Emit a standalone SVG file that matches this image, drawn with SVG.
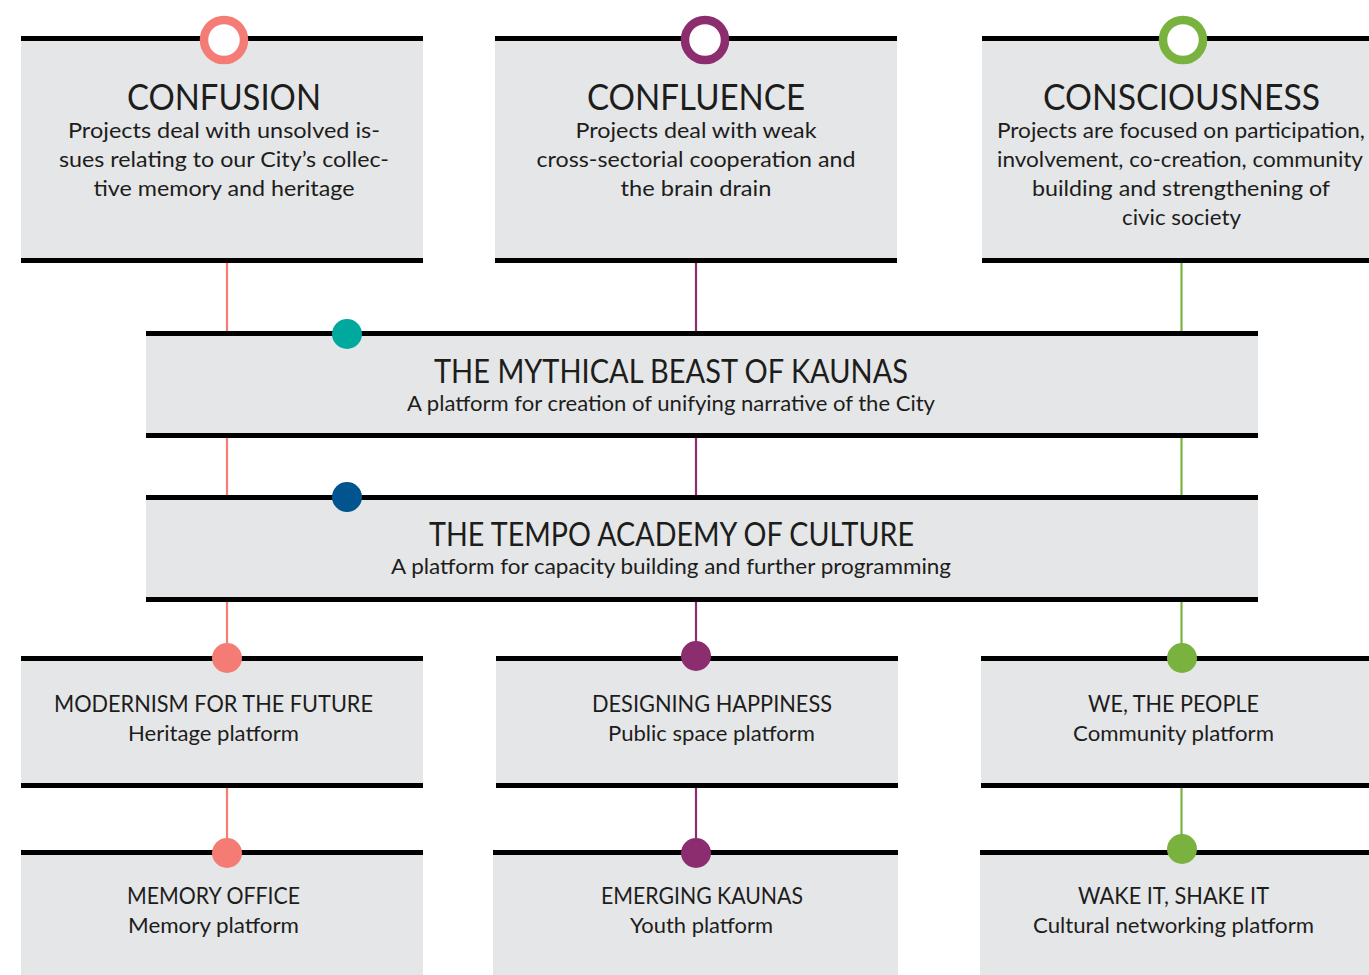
<svg xmlns="http://www.w3.org/2000/svg" width="1369" height="975" viewBox="0 0 1369 975">
<style>
.box{fill:#E5E6E8}
.bar{stroke:#000;stroke-width:5}
text{font-family:Lato,"Open Sans","Liberation Sans",sans-serif;fill:#1d1d1b;text-anchor:middle}
.t1{font-size:36px}
.d1{font-size:22px}
.t2{font-size:32px}
.s2{font-size:21px}
.t3{font-size:23px}
.s3{font-size:21px}
.cr{stroke:#F47C74;stroke-width:2.2}
.cp{stroke:#8B2D6F;stroke-width:2.2}
.cg{stroke:#7AB23F;stroke-width:2.2}
</style>
<rect width="1369" height="975" fill="#fff"/>
<g id="connectors">
<line class="cr" x1="227" y1="262" x2="227" y2="852"/>
<line class="cp" x1="696" y1="262" x2="696" y2="852"/>
<line class="cg" x1="1181.5" y1="262" x2="1181.5" y2="852"/>
</g>
<g id="confusion">
<rect class="box" x="21" y="41" width="402" height="217"/>
<line class="bar" x1="21" y1="38.5" x2="423" y2="38.5"/>
<line class="bar" x1="21" y1="260.5" x2="423" y2="260.5"/>
<circle cx="224" cy="40" r="20" fill="#fff" stroke="#F47C74" stroke-width="8.5"/>
<text class="t1" x="224" y="110" textLength="194" lengthAdjust="spacingAndGlyphs">CONFUSION</text>
<text class="d1" x="224" y="138" textLength="312" lengthAdjust="spacingAndGlyphs">Projects deal with unsolved is-</text>
<text class="d1" x="224" y="167" textLength="330" lengthAdjust="spacingAndGlyphs">sues relating to our City’s collec-</text>
<text class="d1" x="224" y="196" textLength="261" lengthAdjust="spacingAndGlyphs">tive memory and heritage</text>
</g>
<g id="confluence">
<rect class="box" x="495" y="41" width="402" height="217"/>
<line class="bar" x1="495" y1="38.5" x2="897" y2="38.5"/>
<line class="bar" x1="495" y1="260.5" x2="897" y2="260.5"/>
<circle cx="705" cy="40" r="20" fill="#fff" stroke="#8B2D6F" stroke-width="8.5"/>
<text class="t1" x="696" y="110" textLength="218" lengthAdjust="spacingAndGlyphs">CONFLUENCE</text>
<text class="d1" x="696" y="138" textLength="241" lengthAdjust="spacingAndGlyphs">Projects deal with weak</text>
<text class="d1" x="696" y="167" textLength="319" lengthAdjust="spacingAndGlyphs">cross-sectorial cooperation and</text>
<text class="d1" x="696" y="196" textLength="151" lengthAdjust="spacingAndGlyphs">the brain drain</text>
</g>
<g id="consciousness">
<rect class="box" x="982" y="41" width="387" height="217"/>
<line class="bar" x1="982" y1="38.5" x2="1369" y2="38.5"/>
<line class="bar" x1="982" y1="260.5" x2="1369" y2="260.5"/>
<circle cx="1183" cy="40" r="20" fill="#fff" stroke="#7AB23F" stroke-width="8.5"/>
<text class="t1" x="1181.5" y="110" textLength="277" lengthAdjust="spacingAndGlyphs">CONSCIOUSNESS</text>
<text class="d1" x="1181" y="138" textLength="368" lengthAdjust="spacingAndGlyphs">Projects are focused on participation,</text>
<text class="d1" x="1180" y="167" textLength="366" lengthAdjust="spacingAndGlyphs">involvement, co-creation, community</text>
<text class="d1" x="1181" y="196" textLength="298" lengthAdjust="spacingAndGlyphs">building and strengthening of</text>
<text class="d1" x="1181.5" y="225" textLength="119" lengthAdjust="spacingAndGlyphs">civic society</text>
</g>
<g id="mythical-beast">
<rect class="box" x="146" y="336" width="1112" height="97"/>
<line class="bar" x1="146" y1="333.5" x2="1258" y2="333.5"/>
<line class="bar" x1="146" y1="435.5" x2="1258" y2="435.5"/>
<circle cx="347" cy="334" r="15" fill="#00A99D"/>
<text class="t2" x="671" y="383" textLength="474" lengthAdjust="spacingAndGlyphs">THE MYTHICAL BEAST OF KAUNAS</text>
<text class="s2" x="671" y="411" textLength="528" lengthAdjust="spacingAndGlyphs">A platform for creation of unifying narrative of the City</text>
</g>
<g id="tempo-academy">
<rect class="box" x="146" y="500" width="1112" height="97"/>
<line class="bar" x1="146" y1="497.5" x2="1258" y2="497.5"/>
<line class="bar" x1="146" y1="599.5" x2="1258" y2="599.5"/>
<circle cx="347" cy="497" r="15" fill="#01548E"/>
<text class="t2" x="671.5" y="546" textLength="485" lengthAdjust="spacingAndGlyphs">THE TEMPO ACADEMY OF CULTURE</text>
<text class="s2" x="671" y="574" textLength="560" lengthAdjust="spacingAndGlyphs">A platform for capacity building and further programming</text>
</g>
<g id="modernism">
<rect class="box" x="21" y="661" width="402" height="122"/>
<line class="bar" x1="21" y1="658.5" x2="423" y2="658.5"/>
<line class="bar" x1="21" y1="785.5" x2="423" y2="785.5"/>
<circle cx="227" cy="658" r="15" fill="#F47C74"/>
<text class="t3" x="213.5" y="712" textLength="319" lengthAdjust="spacingAndGlyphs">MODERNISM FOR THE FUTURE</text>
<text class="s3" x="213.5" y="741" textLength="171" lengthAdjust="spacingAndGlyphs">Heritage platform</text>
</g>
<g id="memory-office">
<rect class="box" x="21" y="855" width="402" height="120"/>
<line class="bar" x1="21" y1="852.5" x2="423" y2="852.5"/>
<circle cx="227" cy="853" r="15" fill="#F47C74"/>
<text class="t3" x="213.5" y="904" textLength="173" lengthAdjust="spacingAndGlyphs">MEMORY OFFICE</text>
<text class="s3" x="213.5" y="933" textLength="171" lengthAdjust="spacingAndGlyphs">Memory platform</text>
</g>
<g id="designing-happiness">
<rect class="box" x="496" y="661" width="402" height="122"/>
<line class="bar" x1="496" y1="658.5" x2="898" y2="658.5"/>
<line class="bar" x1="496" y1="785.5" x2="898" y2="785.5"/>
<circle cx="696" cy="656" r="15" fill="#8B2D6F"/>
<text class="t3" x="712" y="712" textLength="240" lengthAdjust="spacingAndGlyphs">DESIGNING HAPPINESS</text>
<text class="s3" x="711.5" y="741" textLength="207" lengthAdjust="spacingAndGlyphs">Public space platform</text>
</g>
<g id="emerging-kaunas">
<rect class="box" x="493" y="855" width="405" height="120"/>
<line class="bar" x1="493" y1="852.5" x2="898" y2="852.5"/>
<circle cx="696" cy="853" r="15" fill="#8B2D6F"/>
<text class="t3" x="702" y="904" textLength="202" lengthAdjust="spacingAndGlyphs">EMERGING KAUNAS</text>
<text class="s3" x="701.5" y="933" textLength="143" lengthAdjust="spacingAndGlyphs">Youth platform</text>
</g>
<g id="we-the-people">
<rect class="box" x="981" y="661" width="388" height="122"/>
<line class="bar" x1="981" y1="658.5" x2="1369" y2="658.5"/>
<line class="bar" x1="981" y1="785.5" x2="1369" y2="785.5"/>
<circle cx="1182" cy="658" r="15" fill="#7AB23F"/>
<text class="t3" x="1173.5" y="712" textLength="171" lengthAdjust="spacingAndGlyphs">WE, THE PEOPLE</text>
<text class="s3" x="1173.5" y="741" textLength="201" lengthAdjust="spacingAndGlyphs">Community platform</text>
</g>
<g id="wake-it-shake-it">
<rect class="box" x="980" y="855" width="389" height="120"/>
<line class="bar" x1="980" y1="852.5" x2="1369" y2="852.5"/>
<circle cx="1182" cy="849" r="15" fill="#7AB23F"/>
<text class="t3" x="1173.5" y="904" textLength="191" lengthAdjust="spacingAndGlyphs">WAKE IT, SHAKE IT</text>
<text class="s3" x="1173.5" y="933" textLength="281" lengthAdjust="spacingAndGlyphs">Cultural networking platform</text>
</g>
</svg>
